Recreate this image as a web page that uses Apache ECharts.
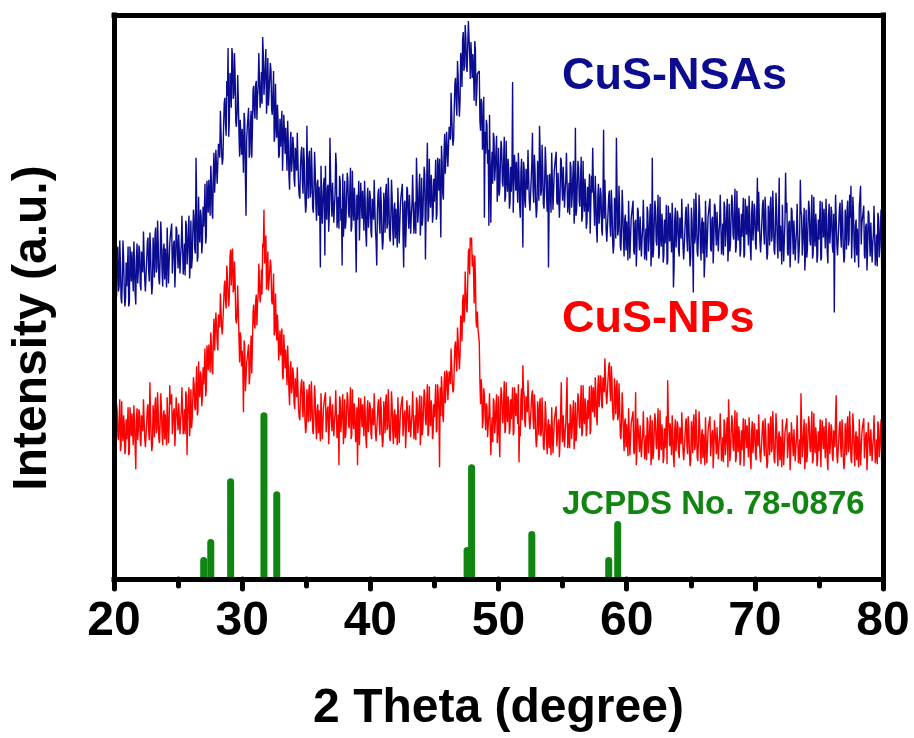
<!DOCTYPE html>
<html><head><meta charset="utf-8">
<script src="https://cdn.jsdelivr.net/npm/echarts@6/dist/echarts.min.js"></script>
<style>html,body{margin:0;padding:0;background:#fff}#c{width:914px;height:738px}</style>
</head><body><div id="c"></div>
<script>
// 2-theta sampling grid of the patterns (degrees): values at 20.0, 20.1, ... and
// the half-step readings at 20.05, 20.15, ...
const X_START = 20, X_STEP = 0.1;
const xTicks = [20, 30, 40, 50, 60, 70, 80];

// CuS-NSAs pattern (arbitrary intensity, offset), 20.0..80.0 deg
const nsaValues = [
253,321,281,331,291,315,274,337,287,279,
291,331,275,316,326,286,316,273,334,307,
326,287,316,346,297,286,335,308,345,299,
292,327,342,305,357,298,318,339,291,334,
329,290,350,314,342,354,302,337,311,348,
309,343,322,362,303,334,357,313,347,299,
357,318,368,329,420,316,381,335,361,335,
351,394,341,385,398,362,397,359,425,403,
428,395,431,467,424,419,475,454,497,530,
457,497,530,479,525,456,465,478,421,459,
449,405,458,362,451,470,424,467,448,492,
459,497,481,525,470,506,541,483,514,464,
520,473,515,468,484,436,494,440,457,423,
431,467,407,444,450,407,434,388,446,416,
433,391,418,445,393,379,426,396,430,381,
372,406,419,380,430,370,388,407,357,398,
391,310,410,374,400,412,358,393,365,402,
361,394,372,425,350,381,402,357,312,341,
397,357,405,365,387,346,407,357,377,305,
358,397,339,379,387,347,375,331,390,362,
380,340,369,398,347,312,384,356,391,344,
337,372,386,349,400,341,360,381,332,375,
369,330,390,354,382,394,310,377,351,388,
349,383,363,403,344,376,420,355,389,342,
400,361,411,318,396,356,419,370,392,363,
376,418,364,407,419,340,416,378,444,421,
445,412,449,485,443,439,495,474,517,477,
477,518,538,507,553,511,533,556,499,536,
524,477,528,484,503,507,447,475,441,360,
424,453,428,463,355,426,445,397,427,376,
430,389,437,396,418,376,437,386,406,375,
386,496,367,407,416,375,404,360,419,330,
410,370,399,428,378,366,415,387,423,376,
369,404,452,382,433,374,393,415,366,310,
404,365,424,387,414,426,373,407,380,417,
377,409,387,425,365,395,416,370,402,354,
450,369,417,376,398,356,417,366,386,355,
366,404,346,385,393,352,380,335,394,365,
383,342,448,398,347,334,382,353,388,340,
332,366,440,342,392,332,350,370,321,363,
356,317,375,339,365,377,323,358,330,367,
327,360,339,378,318,349,371,326,359,311,
420,328,377,337,360,319,381,331,352,322,
334,373,316,356,365,325,354,310,370,342,
361,321,350,379,329,317,366,338,374,327,
322,357,285,334,385,326,345,366,317,360,
356,317,376,340,367,379,326,361,334,371,
332,365,344,383,323,354,376,331,364,316,
374,334,383,343,366,325,387,337,358,328,
341,380,323,363,372,332,361,317,377,349,
368,328,400,386,336,324,373,345,381,334,
324,359,373,336,387,328,347,368,319,400,
352,313,372,336,405,375,322,357,330,367,
323,356,335,374,314,345,367,322,355,307,
368,328,377,337,360,319,381,331,352,322,
338,377,320,360,369,329,358,314,374,346,
365,325,265,383,333,321,370,342,378,331,
320,355,369,332,383,392,343,364,315,358,
349,310,369,333,360,372,319,354,327,364,
321,354,333,372,312,343,365,320,353,305,
280
];
// CuS-NSAs half-step readings, 20.05..79.95 deg
const nsaValuesHalf = [
272,308,322,286,337,279,298,320,271,315,
309,271,331,296,324,336,284,320,294,332,
292,326,305,345,286,318,340,296,330,283,
340,300,350,310,334,293,356,306,328,298,
311,350,294,334,344,304,334,290,351,323,
343,304,333,363,314,302,352,325,362,315,
309,345,360,324,377,321,343,368,324,371,
369,334,397,365,396,412,365,406,385,428,
394,434,420,466,413,451,480,442,482,441,
505,470,522,484,502,451,503,445,458,423,
431,465,402,438,453,420,456,420,488,467,
493,458,492,526,481,474,524,495,529,480,
472,500,507,463,507,441,456,473,420,459,
449,407,463,424,448,457,402,435,406,441,
399,430,407,444,382,411,431,384,415,365,
452,379,427,385,407,365,426,374,394,362,
373,412,354,394,322,362,390,346,440,377,
395,355,383,412,361,349,397,369,404,357,
349,384,397,360,410,351,369,390,340,383,
376,337,395,359,385,397,343,378,350,387,
346,379,358,397,336,367,389,344,376,328,
385,345,394,354,377,336,398,348,369,339,
351,390,334,374,384,344,374,330,391,363,
383,344,374,404,355,344,394,367,404,358,
352,388,403,367,435,361,381,403,355,399,
394,358,420,387,417,432,384,425,404,446,
411,451,438,484,432,471,500,462,502,461,
525,491,546,512,541,506,557,523,536,500,
506,537,472,504,505,457,479,428,481,446,
458,414,352,464,410,394,440,409,442,392,
382,416,429,391,441,381,399,419,369,411,
404,365,423,387,414,425,372,407,379,416,
376,409,388,427,367,398,445,375,408,360,
417,377,426,387,410,369,431,382,403,373,
386,425,368,407,416,376,405,360,420,392,
411,370,398,426,376,363,411,382,417,370,
362,396,409,371,421,361,379,399,349,391,
384,344,402,430,391,402,348,382,354,390,
349,381,359,397,336,366,387,341,373,324,
380,339,387,347,369,327,388,337,358,327,
338,377,319,359,367,327,355,311,370,342,
361,321,350,379,329,317,366,338,374,327,
320,355,369,332,383,324,343,364,315,358,
352,313,372,336,363,375,290,357,330,367,
327,360,339,378,318,349,371,326,359,311,
370,330,379,339,362,321,383,333,354,324,
300,377,320,360,369,329,358,314,374,346,
366,326,355,384,334,322,371,343,379,332,
326,361,375,338,389,330,349,370,321,364,
359,320,379,343,370,382,329,364,337,374,
334,367,346,385,325,356,378,333,366,318,
372,332,381,341,364,323,385,335,356,326,
334,373,316,356,365,325,354,310,370,342,
357,317,346,375,325,398,362,334,370,323,
320,355,369,332,383,324,343,364,315,358,
356,317,376,340,367,379,326,361,334,371,
331,364,343,382,322,353,375,330,363,315,
368,328,377,337,360,319,381,331,352,322,
331,370,392,353,362,322,351,307,367,339,
355,315,344,373,323,311,360,332,368,321
];

// CuS-NPs pattern, 20.0..80.0 deg
const npValues = [
166,134,173,141,159,126,176,136,153,129,
138,170,125,157,164,132,156,108,169,148,
163,131,155,178,138,129,169,147,195,139,
133,161,173,144,185,138,154,170,132,167,
163,132,179,151,173,183,141,169,148,178,
147,174,157,190,143,168,186,122,178,141,
188,158,200,171,192,162,216,180,201,181,
193,229,187,223,233,205,232,203,259,245,
252,227,256,284,249,245,291,277,312,282,
282,328,322,285,316,258,262,266,215,240,
227,165,231,199,220,233,201,242,233,273,
249,283,274,314,275,308,334,368,330,288,
326,286,318,277,285,242,284,237,247,218,
222,249,198,225,228,192,211,172,216,190,
202,168,189,210,168,157,194,170,196,157,
149,176,186,156,196,147,162,178,138,173,
167,136,183,154,176,185,143,171,149,179,
146,172,155,187,139,163,181,145,171,133,
178,146,185,153,171,138,188,148,165,141,
112,180,134,166,173,141,164,129,177,155,
170,138,161,184,144,135,174,152,180,143,
137,165,176,147,188,140,156,172,133,168,
163,132,179,150,172,181,139,167,145,175,
145,171,154,186,138,162,180,144,170,132,
181,149,188,156,174,141,191,151,168,144,
160,193,148,182,110,161,187,155,206,187,
204,175,202,229,193,188,232,216,250,221,
223,257,276,255,306,269,296,329,340,340,
323,274,301,250,249,235,173,187,157,182,
147,171,153,184,122,160,179,144,171,134,
181,120,190,158,177,144,195,155,173,149,
158,190,145,177,184,153,115,141,189,212,
182,150,174,197,156,146,183,158,183,143,
137,163,172,141,180,131,146,162,123,158,
153,122,169,140,162,171,129,158,136,195,
135,161,145,177,129,154,173,138,165,128,
175,144,184,153,173,141,192,153,171,148,
158,191,147,181,190,160,185,152,202,182,
199,169,194,219,181,174,211,186,211,170,
160,184,190,157,194,142,155,168,126,159,
153,121,167,137,158,166,123,185,127,157,
125,151,134,166,118,142,160,124,150,112,
157,125,164,132,150,117,167,127,144,120,
129,161,197,147,154,122,145,110,158,136,
151,119,142,165,125,116,155,133,161,124,
117,145,156,127,168,120,136,152,113,148,
143,112,159,130,152,161,119,147,125,155,
123,149,132,164,116,140,158,122,148,110,
155,123,162,130,148,115,165,125,142,118,
127,159,113,145,152,120,143,108,156,134,
149,117,140,163,123,114,153,131,159,122,
115,143,154,125,166,118,134,150,111,146,
141,110,157,128,150,159,117,145,123,153,
121,147,130,162,114,138,184,120,146,108,
154,122,161,129,147,114,164,124,141,117,
126,158,112,144,151,119,142,107,155,133,
148,116,139,162,122,113,152,130,158,121,
115,143,154,125,166,118,134,150,111,146,
141,110,157,128,150,159,117,145,123,153,
121,147,130,162,114,138,156,120,146,108,
140
];
// CuS-NPs half-step readings, 20.05..79.95 deg
const npValuesHalf = [
127,155,166,137,178,130,146,162,123,158,
153,122,170,141,163,172,131,159,137,168,
136,162,146,178,130,154,173,137,163,126,
172,140,180,148,166,134,184,144,162,138,
148,180,134,192,174,143,166,131,180,158,
174,143,166,190,151,143,182,161,190,154,
149,179,193,167,211,166,186,206,171,210,
208,181,232,207,232,245,207,241,227,265,
235,263,250,286,243,272,297,269,302,271,
321,292,329,289,297,254,292,240,245,211,
212,237,186,215,221,193,226,204,265,253,
276,252,283,314,283,283,330,314,342,301,
287,307,311,273,304,246,254,263,217,247,
237,201,243,209,227,232,186,210,184,210,
175,199,180,210,160,182,198,160,184,144,
188,155,193,160,177,143,192,152,168,144,
152,184,138,170,177,145,168,133,181,159,
173,141,164,187,147,112,177,155,183,146,
139,167,178,149,190,142,158,174,135,170,
163,132,179,150,172,181,139,167,145,175,
143,169,152,184,136,160,178,142,168,130,
176,144,183,151,169,136,186,146,163,139,
148,180,134,166,173,141,164,129,177,155,
172,140,163,186,146,137,176,154,182,145,
142,170,181,152,193,145,161,177,138,173,
175,145,193,166,190,201,162,193,174,207,
177,206,193,229,185,213,236,206,238,208,
262,236,283,259,287,265,326,303,333,311,
308,322,256,266,250,195,198,149,189,162,
174,140,162,184,144,135,175,154,183,147,
142,171,183,154,196,148,165,181,143,178,
173,142,190,161,183,193,151,179,157,187,
155,181,165,197,148,171,187,148,171,130,
176,142,179,145,161,127,176,136,153,129,
138,170,124,156,163,131,154,120,168,147,
162,130,154,200,137,129,169,148,177,141,
136,165,177,149,192,145,162,179,141,177,
173,143,192,165,189,200,160,190,170,202,
172,200,185,219,173,199,215,176,199,157,
199,163,197,161,175,138,185,142,156,130,
138,169,122,153,159,126,148,112,159,137,
152,120,143,166,126,117,156,134,162,125,
118,146,157,128,169,121,137,153,114,149,
144,113,160,131,153,162,120,148,126,156,
124,150,133,165,117,141,159,123,149,111,
156,124,163,131,149,116,166,126,143,119,
128,160,114,146,153,121,144,109,157,135,
150,118,141,164,124,115,154,132,160,178,
116,144,155,126,167,119,135,151,112,147,
142,111,158,129,151,160,118,146,124,154,
122,148,131,163,115,139,157,121,147,109,
154,122,161,129,147,114,164,124,141,117,
126,158,112,144,151,119,142,107,155,133,
148,116,139,162,122,113,152,130,158,121,
115,143,154,125,166,118,134,150,111,146,
141,110,157,128,150,159,117,145,123,153,
121,147,130,182,114,138,156,120,146,108,
154,122,161,129,147,114,164,124,141,117,
126,158,112,144,151,119,142,107,155,133,
148,116,139,162,122,113,152,130,158,121
];

// JCPDS No. 78-0876 reference lines
const refPositions = [27.0, 27.55, 29.1, 31.7, 32.7, 47.55, 47.9, 52.6, 58.6, 59.3];
const refHeights   = [20, 38, 99, 165, 86, 30, 113, 46, 20, 56];

const labels = { nsa: 'CuS-NSAs', np: 'CuS-NPs', ref: 'JCPDS No. 78-0876' };

const FONT = '"Liberation Sans", Arial, Helvetica, sans-serif';
const BLUE = '#0c0c90', RED = '#ff0000', GREEN = '#118511';

// merge on-grid and half-step readings into one ordered [x, y] list
function toXY(onGrid, half) {
  const out = [];
  for (let i = 0; i < onGrid.length; i++) {
    out.push([+(X_START + i * X_STEP).toFixed(2), onGrid[i]]);
    if (i < half.length) out.push([+(X_START + (i + 0.5) * X_STEP).toFixed(2), half[i]]);
  }
  return out;
}

const chart = echarts.init(document.getElementById('c'), null, { renderer: 'canvas' });
const axisLineStyle = { color: '#000', width: 5, cap: 'square' };
chart.setOption({
  animation: false,
  backgroundColor: '#fff',
  grid: { left: 114, right: 31, top: 15, bottom: 158, containLabel: false },
  xAxis: [{
    type: 'value', min: xTicks[0], max: xTicks[xTicks.length - 1], interval: 10,
    position: 'bottom', z: 10,
    axisLine: { show: true, onZero: false, lineStyle: axisLineStyle },
    axisTick: { show: true, inside: false, length: 10, lineStyle: { color: '#000', width: 5, cap: 'round' } },
    minorTick: { show: true, splitNumber: 2, length: 7, lineStyle: { color: '#000', width: 5, cap: 'round' } },
    splitLine: { show: false }, minorSplitLine: { show: false },
    axisLabel: { show: true, margin: 19, color: '#000', fontSize: 48, fontWeight: 'bold', fontFamily: FONT },
    name: '2 Theta (degree)', nameLocation: 'middle', nameGap: 106,
    nameTextStyle: { color: '#000', fontSize: 48, fontWeight: 'bold', fontFamily: FONT }
  }, {
    type: 'value', min: xTicks[0], max: xTicks[xTicks.length - 1], interval: 10,
    position: 'top', z: 10,
    axisLine: { show: true, onZero: false, lineStyle: axisLineStyle },
    axisTick: { show: false }, axisLabel: { show: false }, splitLine: { show: false }
  }],
  yAxis: [{
    type: 'value', min: -2, max: 563, position: 'left', z: 10,
    axisLine: { show: true, onZero: false, lineStyle: axisLineStyle },
    axisTick: { show: false }, axisLabel: { show: false }, splitLine: { show: false }
  }, {
    type: 'value', min: -2, max: 563, position: 'right', z: 10,
    axisLine: { show: true, onZero: false, lineStyle: axisLineStyle },
    axisTick: { show: false }, axisLabel: { show: false }, splitLine: { show: false }
  }],
  series: [{
    name: labels.np, type: 'line', data: toXY(npValues, npValuesHalf), showSymbol: false, symbol: 'none',
    lineStyle: { color: RED, width: 1.4 }, z: 3
  }, {
    name: labels.nsa, type: 'line', data: toXY(nsaValues, nsaValuesHalf), showSymbol: false, symbol: 'none',
    lineStyle: { color: BLUE, width: 1.4 }, z: 3
  }, {
    name: labels.ref, type: 'bar', barWidth: 7,
    data: refPositions.map((p, i) => [p, refHeights[i]]),
    itemStyle: { color: GREEN, borderRadius: [3.5, 3.5, 0, 0] }, z: 2
  }],
  graphic: [{
    type: 'text', x: 562, y: 54, z: 20,
    style: { text: labels.nsa, font: 'bold 45px ' + FONT, fill: BLUE, textAlign: 'left', textVerticalAlign: 'top', align: 'left', verticalAlign: 'top' }
  }, {
    type: 'text', x: 562, y: 297, z: 20,
    style: { text: labels.np, font: 'bold 45px ' + FONT, fill: RED, textAlign: 'left', textVerticalAlign: 'top', align: 'left', verticalAlign: 'top' }
  }, {
    type: 'text', x: 562, y: 488, z: 20,
    style: { text: labels.ref, font: 'bold 33px ' + FONT, fill: GREEN, textAlign: 'left', textVerticalAlign: 'top', align: 'left', verticalAlign: 'top' }
  }, {
    type: 'text', x: 33, y: 328, rotation: Math.PI / 2, z: 20,
    style: { text: 'Intensity (a.u.)', font: 'bold 48px ' + FONT, fill: '#000', textAlign: 'center', textVerticalAlign: 'middle', align: 'center', verticalAlign: 'middle' }
  }]
});
</script>
</body></html>
